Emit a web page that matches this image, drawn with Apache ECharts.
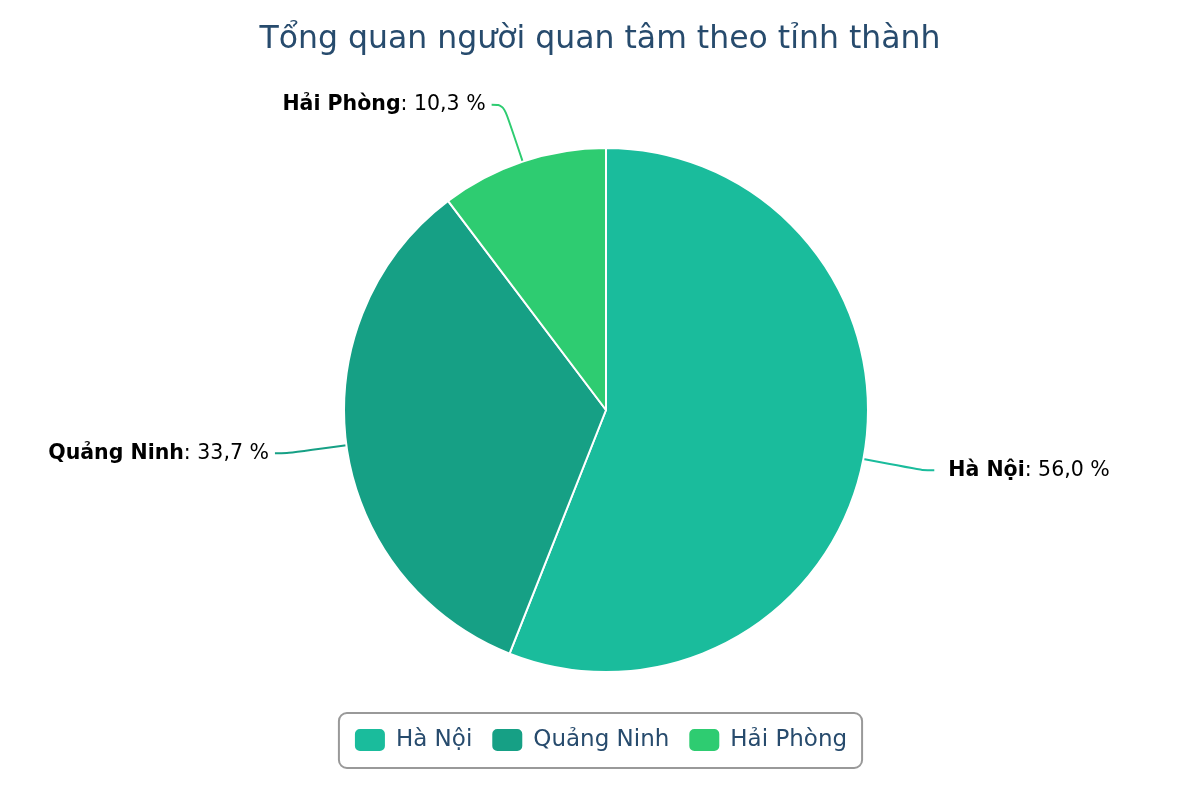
<!DOCTYPE html>
<html><head><meta charset="utf-8">
<script src="https://cdn.jsdelivr.net/npm/echarts@6/dist/echarts.min.js"></script>
<style>html,body{margin:0;padding:0;background:#fff}#c{width:1200px;height:800px}</style>
</head><body><div id="c"></div>
<script>
const titleText = 'Tổng quan người quan tâm theo tỉnh thành';
const categories = ['Hà Nội', 'Quảng Ninh', 'Hải Phòng'];
const values = [56.0, 33.7, 10.3];
const colors = ['#1abc9c', '#16a085', '#2ecc71'];

const chart = echarts.init(document.getElementById('c'), null, {renderer: 'canvas'});
chart.setOption({
  animation: false,
  color: colors,
  title: {
    text: titleText, left: 'center', top: 19,
    textStyle: {fontFamily: 'DejaVu Sans', fontSize: 31.5, fontWeight: 'normal', color: '#274b6d'}
  },
  legend: {
    bottom: 32, left: 'center',
    data: categories,
    icon: 'roundRect', itemWidth: 32, itemHeight: 24, itemGap: 18,
    padding: [14, 15, 15, 14],
    borderColor: '#999', borderWidth: 2, borderRadius: 8,
    textStyle: {fontFamily: 'DejaVu Sans', fontSize: 23, color: '#274b6d', padding: [0, 0, 0, 5]}
  },
  series: [{
    type: 'pie',
    center: [606, 410], radius: 262,
    startAngle: 90, clockwise: true,
    avoidLabelOverlap: false,
    itemStyle: {borderColor: '#fff', borderWidth: 2},
    label: {
      show: true,
      fontFamily: 'DejaVu Sans', fontSize: 20.5, color: '#000',
      formatter: p => '{b|' + p.name + '}: ' + p.value.toFixed(1).replace('.', ',') + ' %',
      rich: {b: {fontFamily: 'DejaVu Sans', fontSize: 20.5, fontWeight: 'bold', color: '#000'}},
      distanceToLabelLine: 6
    },
    labelLine: {show: true, length: 60, length2: 12, smooth: 0.4, lineStyle: {width: 2}},
    emphasis: {disabled: true},
    data: categories.map((n, i) => i === 0
      ? {name: n, value: values[i], label: {distanceToLabelLine: 14}}
      : {name: n, value: values[i]})
  }]
});
</script></body></html>
